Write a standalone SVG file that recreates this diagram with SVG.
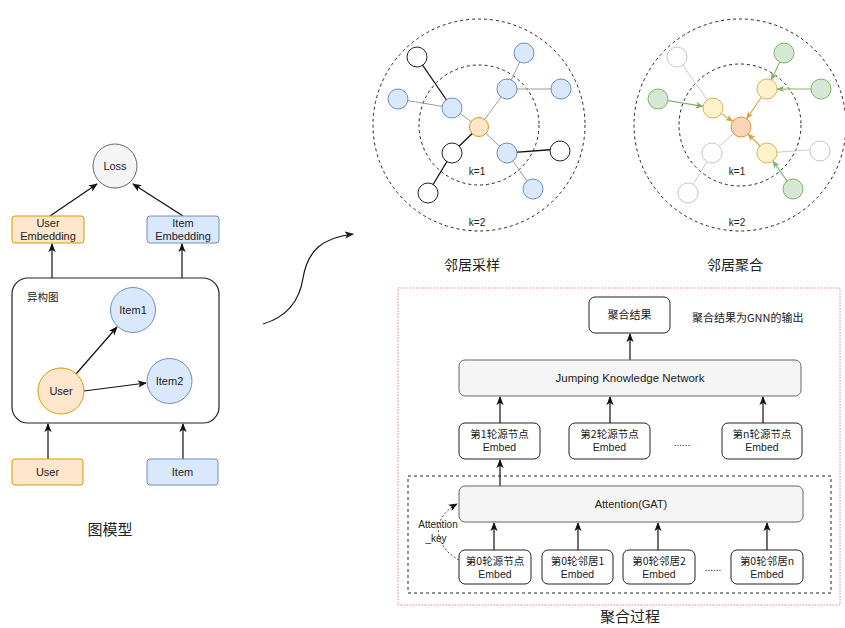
<svg xmlns="http://www.w3.org/2000/svg" width="845" height="628" viewBox="0 0 845 628">
  <style>
    .lat { font-family: "Liberation Sans", Arial, sans-serif; fill: #222; }
    .cjk { font-family: "Noto Sans CJK SC", "Liberation Sans", sans-serif; fill: #222; }
    .orange { fill: #ffe6cc; stroke: #d79b00; stroke-width: 1; }
    .blue { fill: #dae8fc; stroke: #6c8ebf; stroke-width: 1; }
    .gray { fill: #f5f5f5; stroke: #666; stroke-width: 1; }
    .plain { fill: #fff; stroke: #222; stroke-width: 1; }
    .ring { fill: none; stroke: #222; stroke-width: 1; stroke-dasharray: 3 3; }
    .edge { fill: none; stroke: #111; stroke-width: 1.2; }
    .g-edge { stroke: #9e9e9e; stroke-width: 1; }
    .b-edge { stroke: #111; stroke-width: 1.3; }
    .l-edge { stroke: #cccccc; stroke-width: 1; }
    .yel { fill: #fff2cc; stroke: #d6b656; stroke-width: 1; }
    .grn { fill: #d5e8d4; stroke: #82b366; stroke-width: 1; }
    .ctr { fill: #fbd5b5; stroke: #e0914f; stroke-width: 1; }
    .ghost { fill: #fff; stroke: #c8c8c8; stroke-width: 1; }
    .box { fill: #fff; stroke: #222; stroke-width: 1; }
  </style>
  <defs>
    <marker id="arr" viewBox="0 0 10 10" refX="9" refY="5" markerWidth="9" markerHeight="9" markerUnits="userSpaceOnUse" orient="auto">
      <path d="M0,1 L10,5 L0,9 L2.5,5 z" fill="#111"/>
    </marker>
    <marker id="arrG" viewBox="0 0 10 10" refX="9" refY="5" markerWidth="8" markerHeight="8" markerUnits="userSpaceOnUse" orient="auto">
      <path d="M0,1 L10,5 L0,9 L2.5,5 z" fill="#82b366"/>
    </marker>
    <marker id="arrY" viewBox="0 0 10 10" refX="9" refY="5" markerWidth="8" markerHeight="8" markerUnits="userSpaceOnUse" orient="auto">
      <path d="M0,1 L10,5 L0,9 L2.5,5 z" fill="#d6a23c"/>
    </marker>
  </defs>

  <!-- ===== Graph model (left) ===== -->
  <g id="connectors-model">
    <line class="edge" x1="50" y1="216" x2="97" y2="184" marker-end="url(#arr)"/>
    <line class="edge" x1="183" y1="216" x2="133" y2="184" marker-end="url(#arr)"/>
    <line class="edge" x1="52" y1="278" x2="52" y2="244" marker-end="url(#arr)"/>
    <line class="edge" x1="182" y1="278" x2="182" y2="244" marker-end="url(#arr)"/>
    <line class="edge" x1="48" y1="459" x2="48" y2="424" marker-end="url(#arr)"/>
    <line class="edge" x1="183" y1="459" x2="183" y2="424" marker-end="url(#arr)"/>
  </g>
  <g id="loss">
    <circle class="gray" cx="115" cy="166" r="22"/>
    <text class="lat" x="115" y="170" font-size="11" text-anchor="middle">Loss</text>
  </g>
  <g id="user-embedding">
    <rect class="orange" x="12" y="216" width="72" height="27" rx="3"/>
    <text class="lat" x="48" y="227" font-size="11" text-anchor="middle">User</text>
    <text class="lat" x="48" y="240" font-size="11" text-anchor="middle">Embedding</text>
  </g>
  <g id="item-embedding">
    <rect class="blue" x="147" y="216" width="72" height="27" rx="3"/>
    <text class="lat" x="183" y="227" font-size="11" text-anchor="middle">Item</text>
    <text class="lat" x="183" y="240" font-size="11" text-anchor="middle">Embedding</text>
  </g>
  <g id="hetero-graph">
    <rect fill="#fff" stroke="#222" stroke-width="1.2" x="12" y="278" width="207" height="145" rx="16"/>
    <text class="cjk" x="27" y="301" font-size="10.5">异构图</text>
    <line class="edge" x1="76" y1="374" x2="117" y2="327" marker-end="url(#arr)"/>
    <line class="edge" x1="84" y1="391" x2="146" y2="383" marker-end="url(#arr)"/>
  </g>
  <g id="item1">
    <circle class="blue" cx="133" cy="310" r="22.5"/>
    <text class="lat" x="133" y="314" font-size="11" text-anchor="middle">Item1</text>
  </g>
  <g id="item2">
    <circle class="blue" cx="169.5" cy="381" r="22.5"/>
    <text class="lat" x="169.5" y="385" font-size="11" text-anchor="middle">Item2</text>
  </g>
  <g id="user-node">
    <circle class="orange" cx="61" cy="391" r="23"/>
    <text class="lat" x="61" y="395" font-size="11" text-anchor="middle">User</text>
  </g>
  <g id="user-input">
    <rect class="orange" x="12" y="459" width="71" height="26" rx="3"/>
    <text class="lat" x="47.5" y="476" font-size="11" text-anchor="middle">User</text>
  </g>
  <g id="item-input">
    <rect class="blue" x="147" y="459" width="71" height="26" rx="3"/>
    <text class="lat" x="182.5" y="476" font-size="11" text-anchor="middle">Item</text>
  </g>
  <text class="cjk" x="110" y="535" font-size="15" text-anchor="middle">图模型</text>

  <!-- transition arrow -->
  <g id="transition">
    <path class="edge" d="M263,324 C290,316 300,298 303,278 C308,250 322,238 353,234" marker-end="url(#arr)"/>
  </g>

  <!-- ===== Neighbour sampling ===== -->
  <g id="sampling">
    <circle class="ring" cx="479" cy="125" r="106"/>
    <circle class="ring" cx="479" cy="125" r="60"/>
    <g id="sampling-edges">
      <line class="g-edge" x1="479" y1="127" x2="452" y2="108"/>
      <line class="b-edge" x1="452" y1="108" x2="417" y2="57"/>
      <line class="g-edge" x1="452" y1="108" x2="398" y2="99"/>
      <line class="g-edge" x1="479" y1="127" x2="507" y2="89"/>
      <line class="g-edge" x1="507" y1="89" x2="524" y2="53"/>
      <line class="g-edge" x1="507" y1="89" x2="561" y2="89"/>
      <line class="b-edge" x1="479" y1="127" x2="452" y2="153"/>
      <line class="b-edge" x1="452" y1="153" x2="428" y2="193"/>
      <line class="g-edge" x1="479" y1="127" x2="507" y2="153"/>
      <line class="b-edge" x1="507" y1="153" x2="560" y2="149"/>
      <line class="g-edge" x1="507" y1="153" x2="533" y2="189"/>
    </g>
    <circle class="plain" cx="417" cy="57" r="10"/>
    <circle class="blue" cx="398" cy="99" r="10"/>
    <circle class="blue" cx="452" cy="108" r="10"/>
    <circle class="blue" cx="524" cy="53" r="10"/>
    <circle class="blue" cx="507" cy="89" r="10"/>
    <circle class="blue" cx="561" cy="89" r="10"/>
    <circle class="plain" cx="452" cy="153" r="10"/>
    <circle class="blue" cx="507" cy="153" r="10"/>
    <circle class="plain" cx="560" cy="151" r="10"/>
    <circle class="plain" cx="428" cy="193" r="10"/>
    <circle class="blue" cx="533" cy="189" r="10"/>
    <circle class="orange" cx="479" cy="127" r="9.5"/>
    <text class="lat" x="477" y="175" font-size="10" text-anchor="middle">k=1</text>
    <text class="lat" x="477" y="226" font-size="10" text-anchor="middle">k=2</text>
  </g>
  <text class="cjk" x="472" y="270" font-size="14" text-anchor="middle">邻居采样</text>

  <!-- ===== Neighbour aggregation ===== -->
  <g id="aggregation">
    <circle class="ring" cx="740" cy="125" r="106"/>
    <circle class="ring" cx="740" cy="125" r="61"/>
    <g id="aggregation-edges">
      <line class="l-edge" x1="677" y1="57" x2="713" y2="108"/>
      <line class="l-edge" x1="741" y1="127" x2="712" y2="153"/>
      <line class="l-edge" x1="712" y1="153" x2="688" y2="193"/>
      <line class="l-edge" x1="767" y1="153" x2="820" y2="149"/>
      <line stroke="#82b366" stroke-width="1.1" x1="668" y1="100.6" x2="703" y2="106.4" marker-end="url(#arrG)"/>
      <line stroke="#82b366" stroke-width="1.1" x1="779.7" y1="62" x2="771.3" y2="80" marker-end="url(#arrG)"/>
      <line stroke="#82b366" stroke-width="1.1" x1="811" y1="89" x2="777" y2="89" marker-end="url(#arrG)"/>
      <line stroke="#82b366" stroke-width="1.1" x1="787.1" y1="180.9" x2="772.9" y2="161.1" marker-end="url(#arrG)"/>
      <line stroke="#d6a23c" stroke-width="1.1" x1="721.3" y1="113.6" x2="732.7" y2="121.4" marker-end="url(#arrY)"/>
      <line stroke="#d6a23c" stroke-width="1.1" x1="761.4" y1="97.3" x2="746.6" y2="118.7" marker-end="url(#arrY)"/>
      <line stroke="#d6a23c" stroke-width="1.1" x1="760" y1="146" x2="748" y2="134" marker-end="url(#arrY)"/>
    </g>
    <circle class="ghost" cx="677" cy="57" r="10"/>
    <circle class="ghost" cx="712" cy="153" r="10"/>
    <circle class="ghost" cx="820" cy="151" r="10"/>
    <circle class="ghost" cx="688" cy="193" r="10"/>
    <circle class="grn" cx="658" cy="99" r="10"/>
    <circle class="grn" cx="784" cy="53" r="10"/>
    <circle class="grn" cx="821" cy="89" r="10"/>
    <circle class="grn" cx="793" cy="189" r="10"/>
    <circle class="yel" cx="713" cy="108" r="10"/>
    <circle class="yel" cx="767" cy="89" r="10"/>
    <circle class="yel" cx="767" cy="153" r="10"/>
    <circle class="ctr" cx="741" cy="127" r="10"/>
    <text class="lat" x="737" y="175" font-size="10" text-anchor="middle">k=1</text>
    <text class="lat" x="737" y="226" font-size="10" text-anchor="middle">k=2</text>
  </g>
  <text class="cjk" x="735" y="270" font-size="14" text-anchor="middle">邻居聚合</text>

  <!-- ===== Aggregation process ===== -->
  <rect x="398" y="288" width="442" height="317" fill="none" stroke="#e06666" stroke-width="0.8" stroke-dasharray="1.5 1.5"/>
  <rect x="408" y="476" width="423" height="117" fill="none" stroke="#222" stroke-width="1" stroke-dasharray="3 3"/>

  <g id="process-connectors">
    <line class="edge" x1="630" y1="360" x2="630" y2="334" marker-end="url(#arr)"/>
    <line class="edge" x1="500" y1="423" x2="500" y2="397" marker-end="url(#arr)"/>
    <line class="edge" x1="610" y1="423" x2="610" y2="397" marker-end="url(#arr)"/>
    <line class="edge" x1="763" y1="423" x2="763" y2="397" marker-end="url(#arr)"/>
    <line class="edge" x1="500" y1="486" x2="500" y2="460" marker-end="url(#arr)"/>
    <line class="edge" x1="494" y1="550" x2="494" y2="523" marker-end="url(#arr)"/>
    <line class="edge" x1="578" y1="550" x2="578" y2="523" marker-end="url(#arr)"/>
    <line class="edge" x1="658" y1="550" x2="658" y2="523" marker-end="url(#arr)"/>
    <line class="edge" x1="767" y1="550" x2="767" y2="523" marker-end="url(#arr)"/>
    <path d="M459,560 C436,548 428,520 457,504" fill="none" stroke="#333" stroke-width="0.9" stroke-dasharray="2 2" marker-end="url(#arr)"/>
  </g>

  <g id="result">
    <rect class="box" x="589" y="297" width="81" height="36" rx="6"/>
    <text class="cjk" x="629.5" y="319" font-size="11" text-anchor="middle">聚合结果</text>
  </g>
  <text class="cjk" x="692" y="322" font-size="11">聚合结果为GNN的输出</text>

  <g id="jkn">
    <rect class="gray" x="459" y="360" width="342" height="36" rx="6"/>
    <text class="lat" x="630" y="382" font-size="11.5" text-anchor="middle" fill="#333">Jumping Knowledge Network</text>
  </g>

  <g id="round1">
    <rect class="box" x="459" y="423" width="81" height="36" rx="6"/>
    <text class="cjk" x="499.5" y="438" font-size="10.5" text-anchor="middle">第1轮源节点</text>
    <text class="lat" x="499.5" y="451" font-size="10.5" text-anchor="middle">Embed</text>
  </g>
  <g id="round2">
    <rect class="box" x="569" y="423" width="81" height="36" rx="6"/>
    <text class="cjk" x="609.5" y="438" font-size="10.5" text-anchor="middle">第2轮源节点</text>
    <text class="lat" x="609.5" y="451" font-size="10.5" text-anchor="middle">Embed</text>
  </g>
  <text class="lat" x="682" y="446" font-size="10" text-anchor="middle">......</text>
  <g id="roundn">
    <rect class="box" x="722" y="423" width="80" height="36" rx="6"/>
    <text class="cjk" x="762" y="438" font-size="10.5" text-anchor="middle">第n轮源节点</text>
    <text class="lat" x="762" y="451" font-size="10.5" text-anchor="middle">Embed</text>
  </g>

  <g id="attention">
    <rect class="gray" x="459" y="486" width="344" height="36" rx="6"/>
    <text class="lat" x="631" y="508" font-size="11" text-anchor="middle">Attention(GAT)</text>
  </g>
  <text class="lat" x="438" y="528" font-size="10" text-anchor="middle">Attention</text>
  <text class="lat" x="436" y="542" font-size="10" text-anchor="middle">_key</text>

  <g id="src0">
    <rect class="box" x="459" y="550" width="72" height="34" rx="6"/>
    <text class="cjk" x="495" y="565" font-size="10.5" text-anchor="middle">第0轮源节点</text>
    <text class="lat" x="495" y="578" font-size="10.5" text-anchor="middle">Embed</text>
  </g>
  <g id="nb1">
    <rect class="box" x="542" y="550" width="71" height="34" rx="6"/>
    <text class="cjk" x="577.5" y="565" font-size="10.5" text-anchor="middle">第0轮邻居1</text>
    <text class="lat" x="577.5" y="578" font-size="10.5" text-anchor="middle">Embed</text>
  </g>
  <g id="nb2">
    <rect class="box" x="623" y="550" width="72" height="34" rx="6"/>
    <text class="cjk" x="659" y="565" font-size="10.5" text-anchor="middle">第0轮邻居2</text>
    <text class="lat" x="659" y="578" font-size="10.5" text-anchor="middle">Embed</text>
  </g>
  <text class="lat" x="713" y="571" font-size="10" text-anchor="middle">......</text>
  <g id="nbn">
    <rect class="box" x="731" y="550" width="72" height="34" rx="6"/>
    <text class="cjk" x="767" y="565" font-size="10.5" text-anchor="middle">第0轮邻居n</text>
    <text class="lat" x="767" y="578" font-size="10.5" text-anchor="middle">Embed</text>
  </g>
  <text class="cjk" x="630" y="622" font-size="15" text-anchor="middle">聚合过程</text>
</svg>
